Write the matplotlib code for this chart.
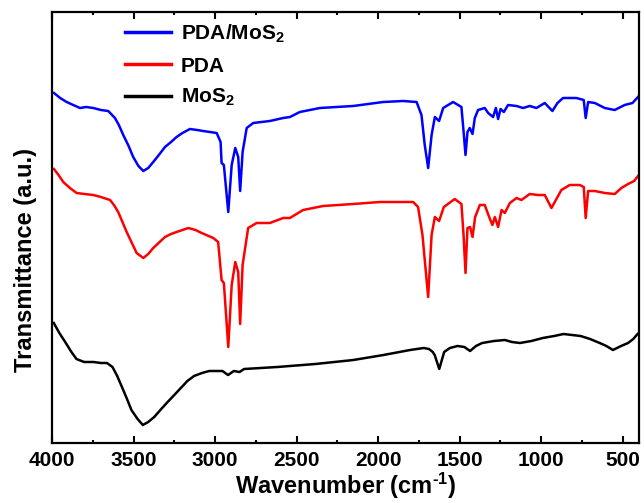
import matplotlib
matplotlib.use("Agg")
import matplotlib.pyplot as plt
from matplotlib.ticker import MultipleLocator

plt.rcParams['font.family'] = ['Liberation Sans', 'DejaVu Sans']
plt.rcParams['font.weight'] = 'bold'
plt.rcParams['mathtext.fontset'] = 'custom'
plt.rcParams['mathtext.rm'] = 'Liberation Sans:bold'
plt.rcParams['mathtext.it'] = 'Liberation Sans:bold'
plt.rcParams['mathtext.bf'] = 'Liberation Sans:bold'

# ---- data (wavenumber in cm^-1, transmittance in arbitrary units) ----
pda_mos2_wn = [3988, 3950, 3910, 3870, 3828, 3790, 3747, 3700, 3655, 3614, 3590, 3563,
               3530, 3502, 3470, 3440, 3410, 3379, 3340, 3307, 3270, 3236, 3200,
               3154, 3110, 3073, 2990, 2966, 2960, 2946, 2919, 2898, 2876, 2858, 2846, 2831,
               2806, 2766, 2664, 2582, 2541, 2480, 2357, 2153, 1969, 1847, 1764, 1734,
               1714, 1693, 1672, 1652, 1626, 1601, 1540, 1489, 1474, 1464, 1452, 1438,
               1421, 1407, 1387, 1346, 1325, 1295, 1278, 1264, 1249, 1229, 1203, 1151,
               1111, 1070, 1029, 978, 931, 900, 866, 784, 739, 727, 712, 671, 610, 549, 488,
               440, 406]
pda_mos2_t = [350, 345, 341, 338, 335, 336, 335, 333, 332, 325, 318, 308,
              297, 286, 277, 272, 275, 281, 289, 296, 301, 306, 310,
              314, 313, 312, 310, 301, 280, 278, 231, 278, 295, 286, 252, 291,
              315, 320, 322, 325, 326, 331, 335, 337, 341, 342, 341, 328,
              298, 275, 308, 326, 322, 335, 341, 336, 308, 288, 311, 315,
              309, 325, 333, 335, 330, 326, 335, 324, 334, 331, 338, 337,
              335, 337, 335, 340, 332, 340, 345, 345, 343, 325, 341, 340, 335, 333, 338,
              340, 346]

pda_wn = [3988, 3960, 3931, 3890, 3849, 3800, 3747, 3700, 3644, 3620, 3594, 3542,
          3510, 3481, 3440, 3410, 3379, 3340, 3307, 3270, 3236, 3200,
          3164, 3120, 3082, 3011, 2981, 2960, 2946, 2919, 2898, 2876, 2858, 2846, 2831,
          2797, 2745, 2664, 2582, 2541, 2460, 2337, 2153, 1989, 1785, 1755, 1728,
          1693, 1672, 1652, 1626, 1597, 1530, 1489, 1476, 1464, 1452, 1436, 1421,
          1405, 1376, 1346, 1319, 1299, 1284, 1264, 1243, 1223, 1192, 1151, 1121,
          1070, 1019, 978, 937, 876, 825, 763, 739, 727, 712, 671, 610, 549, 508, 467,
          430, 406]
pda_t = [274, 268, 261, 255, 250, 249, 248, 246, 243, 238, 231, 211,
         200, 190, 185, 189, 195, 201, 206, 209, 211, 213,
         215, 213, 210, 205, 201, 163, 160, 96, 158, 181, 171, 119, 178,
         215, 220, 220, 225, 225, 233, 237, 239, 241, 241, 236, 208,
         146, 208, 226, 222, 236, 244, 239, 208, 170, 215, 216, 206,
         226, 238, 238, 226, 218, 226, 216, 233, 230, 240, 245, 243,
         249, 248, 248, 235, 253, 258, 258, 256, 225, 252, 252, 250, 249, 255, 259,
         262, 267]

mos2_wn = [3989, 3955, 3919, 3885, 3850, 3803, 3745, 3700, 3663, 3629, 3600, 3571,
           3540, 3513, 3475, 3443, 3410, 3373, 3330, 3291, 3250, 3210, 3170,
           3129, 3080, 3036, 2955, 2920, 2885, 2850, 2822, 2618, 2385, 2152, 1967,
           1804, 1720, 1688, 1665, 1653, 1625, 1595, 1560, 1513, 1471, 1436, 1400, 1362,
           1290, 1222, 1180, 1130, 1060, 990, 920, 863, 758, 700, 641, 600, 560, 510,
           467, 435, 409]
mos2_t = [120, 110, 101, 92, 84, 81, 81, 80, 80, 76, 67, 56,
          44, 33, 24, 18, 21, 26, 34, 41, 48, 55, 62,
          67, 70, 72, 72, 68, 72, 71, 74, 76, 79, 83, 88,
          93, 95, 94, 91, 88, 74, 91, 95, 97, 96, 92, 97, 100,
          102, 103, 101, 100, 102, 105, 107, 109, 107, 104, 100, 97, 93, 97,
          100, 104, 109]

series_labels = ['PDA/MoS$_{2}$', 'PDA', 'MoS$_{2}$']
series_colors = ['#0000ff', '#ff0000', '#000000']
x_ticks = [4000, 3500, 3000, 2500, 2000, 1500, 1000, 500]

fig = plt.figure(figsize=(6.44, 5.03), dpi=100)
ax = fig.add_axes([52/644, 1 - 443/503, 587/644, 431/503])

for wn, t, lab, col in zip([pda_mos2_wn, pda_wn, mos2_wn],
                           [pda_mos2_t, pda_t, mos2_t],
                           series_labels, series_colors):
    ax.plot(wn, t, color=col, lw=1.8, label=lab, solid_joinstyle='round')

ax.set_xlim(4000, 400)
ax.set_ylim(0, 431)
ax.set_xticks(x_ticks)
ax.set_xticklabels([str(v) for v in x_ticks])
ax.xaxis.set_minor_locator(MultipleLocator(250))
ax.set_yticks([])
ax.tick_params(axis='x', which='major', direction='in', length=5, width=1.5,
               top=True, labelsize=15, pad=6)
ax.tick_params(axis='x', which='minor', direction='in', length=2.5, width=1.5, top=True)
for s in ax.spines.values():
    s.set_linewidth(1.6)

ax.set_xlabel(r'Wavenumber (cm$^{\text{-1}}$)', fontsize=17, fontweight='bold', labelpad=0)
ax.set_ylabel('Transmittance (a.u.)', fontsize=17, fontweight='bold')
ax.yaxis.set_label_coords(-0.025, 0.425)

leg = ax.legend(loc='upper left', bbox_to_anchor=(0.125, 0.975), frameon=False,
                fontsize=15, handlelength=2.2, handletextpad=0.45,
                labelspacing=0.55, borderpad=0, borderaxespad=0)
for h in leg.get_lines():
    h.set_linewidth(2.5)

fig.savefig('out.png', dpi=100)
